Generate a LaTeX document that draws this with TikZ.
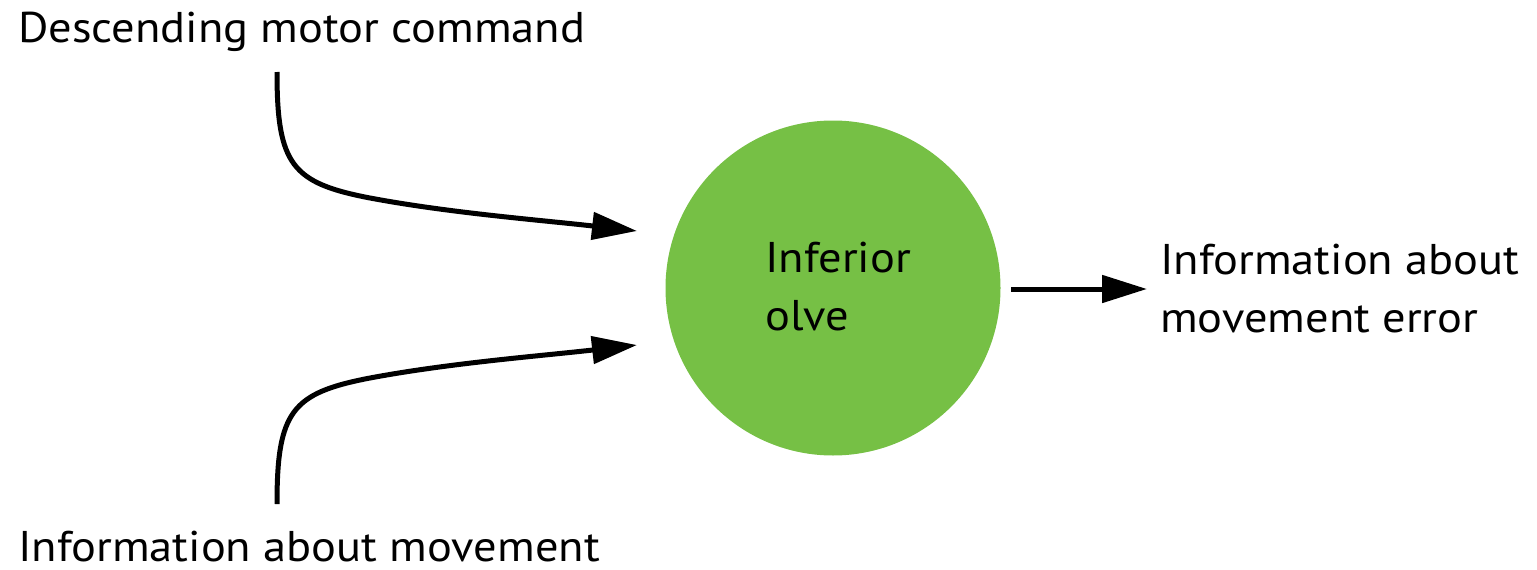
\documentclass[tikz,border=0pt]{standalone}
\usepackage{fontspec}
\setmainfont[FakeStretch=1.08]{PT Sans}
\usetikzlibrary{arrows.meta}
\definecolor{olivegreen}{RGB}{118,192,69}
\tikzset{
  lbl/.style={inner sep=0pt, font=\fontsize{43}{58}\selectfont, align=left},
  conn/.style={line width=5pt, -{Triangle[length=45pt,width=27pt]}},
}
\begin{document}
\begin{tikzpicture}[x=1pt,y=-1pt]
\useasboundingbox (0,0) rectangle (1537,570);
\node[lbl, anchor=base west] (desc) at (18,42) {Descending motor command};
\node[lbl, anchor=base west] (info) at (18,561) {Information about movement};
\node[circle, fill=olivegreen, minimum size=335pt, inner sep=0pt] (olive) at (833,288) {};
\node[lbl, anchor=west] (oliveText) at (765,287) {Inferior\\olve};
\node[lbl, anchor=west] (err) at (1160,289) {Information about\\movement error};
\coordinate (s1) at (277,72);
\coordinate (t1) at (637,231);
\coordinate (s2) at (277,504);
\coordinate (t2) at (637,345);
\coordinate (s3) at (1011,289);
\coordinate (t3) at (1147,289);
\draw[conn] (s1) .. controls (277,165) and (292,183) .. (370,198) .. controls (450,213) and (540,220) .. (t1);
\draw[conn] (s2) .. controls (277,411) and (292,393) .. (370,378) .. controls (450,363) and (540,356) .. (t2);
\draw[conn] (s3) -- (t3);
\end{tikzpicture}
\end{document}
